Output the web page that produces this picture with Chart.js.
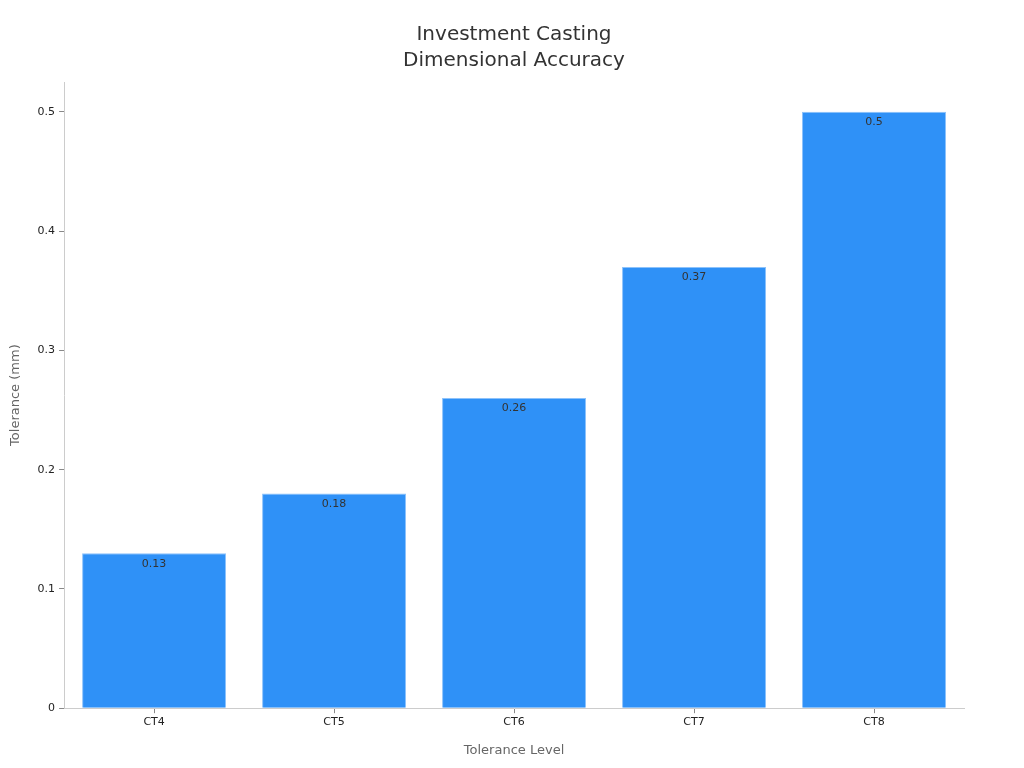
<!DOCTYPE html>
<html>
<head>
<meta charset="utf-8">
<script src="https://cdn.jsdelivr.net/npm/chart.js@4"></script>
<style>
  body { margin: 0; background: #fff; }
  #wrap { width: 1024px; height: 768px; }
</style>
</head>
<body>
<div id="wrap"><canvas id="chart" width="1024" height="768"></canvas></div>
<script>
// chart data
const levels = ['CT4', 'CT5', 'CT6', 'CT7', 'CT8'];
const tolerances = [0.13, 0.18, 0.26, 0.37, 0.5];
const yTicks = [0, 0.1, 0.2, 0.3, 0.4, 0.5];

// draws the value text just inside the top of each bar
const barValues = {
    id: 'barValues',
    afterDatasetsDraw(chart) {
        const ctx = chart.ctx;
        const meta = chart.getDatasetMeta(0);
        ctx.save();
        ctx.font = '11px "DejaVu Sans"';
        ctx.fillStyle = '#333';
        ctx.textAlign = 'center';
        ctx.textBaseline = 'top';
        meta.data.forEach((bar, i) => {
            ctx.fillText(String(tolerances[i]), bar.x, bar.y + 5);
        });
        ctx.restore();
    }
};

const axisColor = '#cccccc';

new Chart(document.getElementById('chart'), {
    type: 'bar',
    data: {
        labels: levels,
        datasets: [{
            data: tolerances,
            backgroundColor: '#2f91f7',
            borderColor: '#8cc2fb',
            borderWidth: 1,
            barPercentage: 0.8,
            categoryPercentage: 1.0
        }]
    },
    options: {
        responsive: false,
        animation: false,
        layout: { padding: { left: 4, right: 0, top: 4, bottom: 6 } },
        plugins: {
            legend: { display: false },
            tooltip: { enabled: false },
            title: {
                display: true,
                text: ['Investment Casting', 'Dimensional Accuracy'],
                color: '#333',
                font: { family: '"DejaVu Sans"', size: 20, weight: 'normal', lineHeight: 1.3 },
                padding: { top: 18, bottom: 8 }
            }
        },
        scales: {
            x: {
                border: { display: true, color: axisColor },
                grid: { display: true, drawOnChartArea: false, drawTicks: true, tickLength: 5, color: '#888', offset: false },
                ticks: { color: '#222', font: { family: '"DejaVu Sans"', size: 11 }, padding: 2 },
                title: {
                    display: true,
                    text: 'Tolerance Level',
                    color: '#666',
                    font: { family: '"DejaVu Sans"', size: 13 },
                    padding: { top: 12 }
                }
            },
            y: {
                min: 0,
                max: 0.525,
                afterBuildTicks(axis) {
                    axis.ticks = yTicks.map(v => ({ value: v }));
                },
                border: { display: true, color: axisColor },
                grid: { display: true, drawOnChartArea: false, drawTicks: true, tickLength: 5, color: '#888' },
                ticks: {
                    color: '#222',
                    font: { family: '"DejaVu Sans"', size: 11 },
                    padding: 4,
                    callback: v => String(Math.round(v * 10) / 10)
                },
                title: {
                    display: true,
                    text: 'Tolerance (mm)',
                    color: '#666',
                    font: { family: '"DejaVu Sans"', size: 13 },
                    padding: { bottom: 10 }
                }
            },
            // empty right-hand gutter so the title stays centred on the page
            gutter: {
                position: 'right',
                display: true,
                ticks: { display: false },
                grid: { display: false },
                border: { display: false },
                afterFit(axis) { axis.width = 60; }
            }
        }
    },
    plugins: [barValues]
});
</script>
</body>
</html>
